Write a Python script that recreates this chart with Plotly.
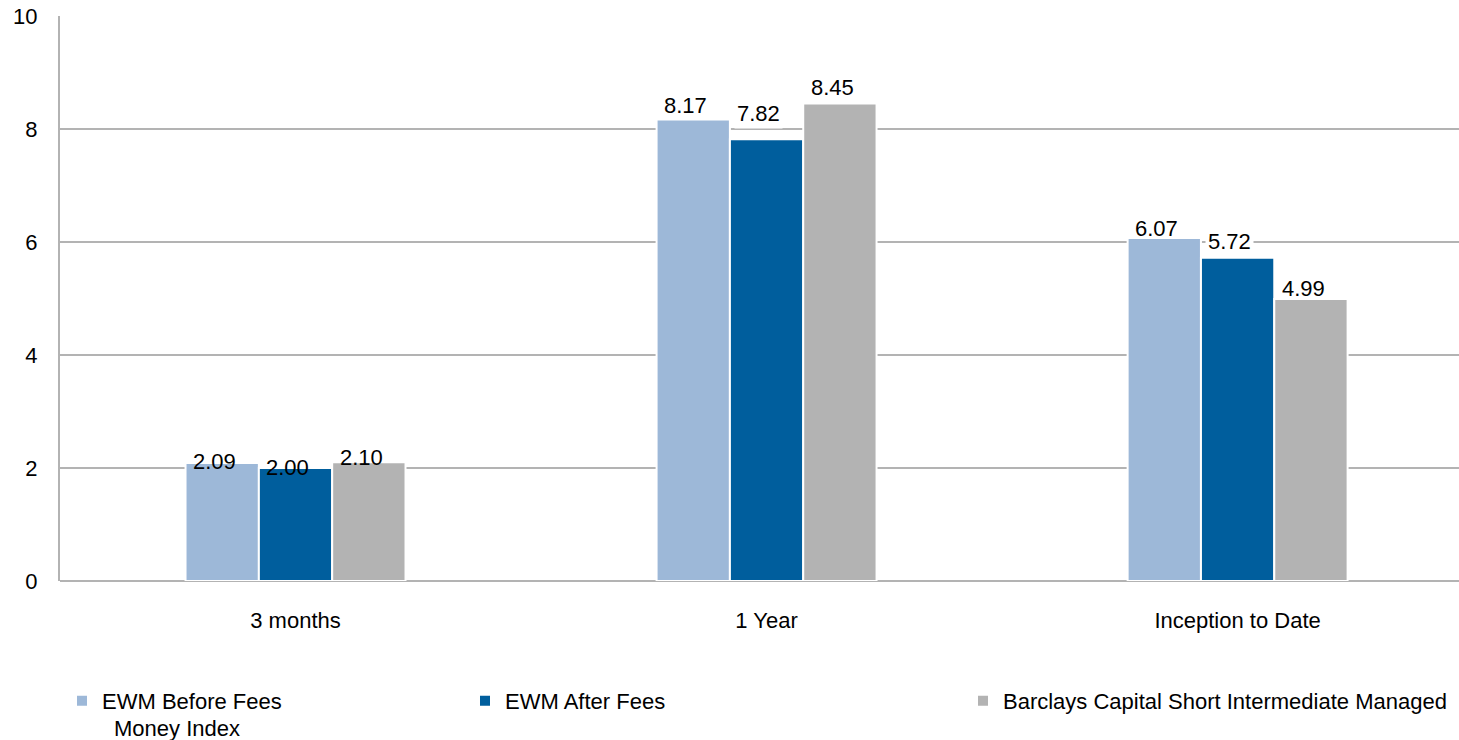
import plotly.graph_objects as go

categories = ["3 months", "1 Year", "Inception to Date"]
series_names = ["EWM Before Fees", "EWM After Fees",
                "Barclays Capital Short Intermediate Managed Money Index"]
before_fees = [2.09, 8.17, 6.07]
after_fees = [2.00, 7.82, 5.72]
barclays = [2.10, 8.45, 4.99]
y_ticks = [0, 2, 4, 6, 8, 10]

series_values = [before_fees, after_fees, barclays]
colors = ["#9DB8D8", "#005E9D", "#B3B3B3"]
# label vertical offsets (px above bar top) for each series, per category
label_shift = [[1, 14, 10], [1, 26, 16], [5, 16, 11]]

FONT = "Liberation Sans, Arial, sans-serif"
fig = go.Figure()
for i, (name, vals) in enumerate(zip(series_names, series_values)):
    legend_name = name if i < 2 else "Barclays Capital Short Intermediate Managed"
    fig.add_trace(go.Bar(
        x=categories, y=vals, name=legend_name, showlegend=True,
        marker=dict(color=colors[i], line=dict(color="white", width=2)),
        offsetgroup=str(i), legend=["legend", "legend2", "legend3"][i],
    ))

# value labels
offsets = [-1, 0, 1]
for i, vals in enumerate(series_values):
    for j, v in enumerate(vals):
        fig.add_annotation(
            x=j + offsets[i] * 0.156, y=v, xref="x", yref="y",
            text=f"{v:.2f}", showarrow=False, yanchor="middle",
            yshift=label_shift[i][j], xshift=-8,
            font=dict(family=FONT, size=22, color="#000000"),
            bgcolor="white" if label_shift[i][j] >= 15 else "rgba(0,0,0,0)",
            borderpad=2,
        )

fig.add_annotation(x=(112 - 60) / 1399, y=-(728 - 581) / 565, xref="paper", yref="paper",
                   text="Money Index", showarrow=False, xanchor="left", yanchor="middle",
                   font=dict(family=FONT, size=22, color="#000000"))

legend_common = dict(orientation="h", yanchor="middle", y=-(701 - 581) / 565,
                     xanchor="left", font=dict(family=FONT, size=22, color="#000000"),
                     bgcolor="rgba(0,0,0,0)")
fig.update_layout(
    width=1459, height=740,
    margin=dict(l=60, r=0, t=16, b=159),
    paper_bgcolor="white", plot_bgcolor="white",
    barmode="group", bargap=0.533, bargroupgap=0,
    showlegend=True,
    font=dict(family=FONT, size=22, color="#000000"),
    legend=dict(x=(62 - 60) / 1399, **legend_common),
    legend2=dict(x=(465 - 60) / 1399, **legend_common),
    legend3=dict(x=(963 - 60) / 1399, **legend_common),
    xaxis=dict(type="category", range=[-0.5, 2.47], showgrid=False,
               showline=False, ticks="outside", ticklen=20,
               tickcolor="rgba(0,0,0,0)", tickfont=dict(family=FONT, size=22)),
    yaxis=dict(range=[0, 10], tickvals=y_ticks, showgrid=True, gridcolor="#B3B3B3",
               gridwidth=2, zeroline=True, zerolinecolor="#B3B3B3", zerolinewidth=2,
               showline=True, linecolor="#B3B3B3", linewidth=2,
               ticks="outside", ticklen=16, tickcolor="rgba(0,0,0,0)",
               tickfont=dict(family=FONT, size=22)),
)

fig.write_html("out.html")
